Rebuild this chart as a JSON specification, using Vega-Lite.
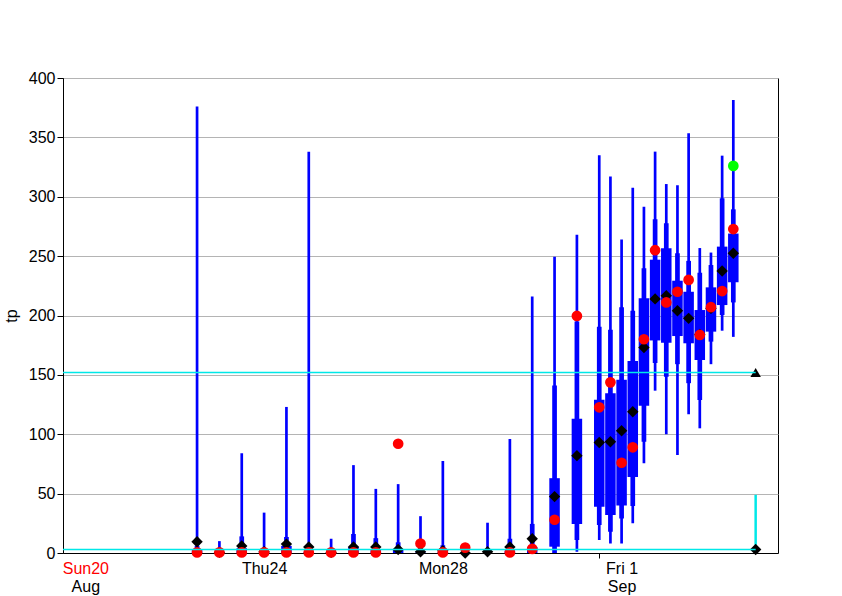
{
  "$schema": "https://vega.github.io/schema/vega-lite/v6.json",
  "width": 715,
  "height": 475,
  "autosize": "none",
  "padding": {"left": 63, "top": 78, "right": 64, "bottom": 43},
  "config": {
    "font": "Liberation Sans",
    "view": {"stroke": "black", "strokeWidth": 1},
    "axis": {"domainColor": "black", "tickColor": "black", "labelColor": "black", "titleColor": "black"}
  },
  "datasets": {
    "ens": [
      {"t": "2023-08-23T00:00:00Z", "min": 0, "p10": 0, "q25": 0, "q75": 3, "p90": 6, "max": 376, "ctrl": 9.5, "hres": 0.5},
      {"t": "2023-08-23T12:00:00Z", "min": 0, "p10": 0, "q25": 0, "q75": 0.5, "p90": 1, "max": 10, "ctrl": 0.5, "hres": 0.5},
      {"t": "2023-08-24T00:00:00Z", "min": 0, "p10": 0, "q25": 0, "q75": 4, "p90": 14, "max": 84, "ctrl": 6, "hres": 0.5},
      {"t": "2023-08-24T12:00:00Z", "min": 0, "p10": 0, "q25": 0, "q75": 0.5, "p90": 2, "max": 34, "ctrl": 1, "hres": 0.5},
      {"t": "2023-08-25T00:00:00Z", "min": 0, "p10": 0, "q25": 0, "q75": 6, "p90": 13.5, "max": 123, "ctrl": 7.5, "hres": 0.5},
      {"t": "2023-08-25T12:00:00Z", "min": 0, "p10": 0, "q25": 0, "q75": 1, "p90": 4, "max": 338, "ctrl": 5, "hres": 0.5},
      {"t": "2023-08-26T00:00:00Z", "min": 0, "p10": 0, "q25": 0, "q75": 0, "p90": 1, "max": 12, "ctrl": 0.5, "hres": 0.5},
      {"t": "2023-08-26T12:00:00Z", "min": 0, "p10": 0, "q25": 0, "q75": 5, "p90": 16, "max": 74, "ctrl": 5, "hres": 0.5},
      {"t": "2023-08-27T00:00:00Z", "min": 0, "p10": 0, "q25": 0, "q75": 3, "p90": 12.5, "max": 54, "ctrl": 5, "hres": 0.5},
      {"t": "2023-08-27T12:00:00Z", "min": 0, "p10": 0, "q25": 0, "q75": 3, "p90": 9, "max": 58, "ctrl": 3, "hres": 92},
      {"t": "2023-08-28T00:00:00Z", "min": 0, "p10": 0, "q25": 0, "q75": 0.5, "p90": 2, "max": 31, "ctrl": 1, "hres": 8},
      {"t": "2023-08-28T12:00:00Z", "min": 0, "p10": 0, "q25": 0, "q75": 1, "p90": 6.5, "max": 77.5, "ctrl": 2, "hres": 0.5},
      {"t": "2023-08-29T00:00:00Z", "min": 0, "p10": 0, "q25": 0, "q75": 0, "p90": 0.5, "max": 3, "ctrl": 0, "hres": 4.5},
      {"t": "2023-08-29T12:00:00Z", "min": 0, "p10": 0, "q25": 0, "q75": 0, "p90": 1, "max": 25.5, "ctrl": 1, "hres": null},
      {"t": "2023-08-30T00:00:00Z", "min": 0, "p10": 0, "q25": 0, "q75": 2, "p90": 12, "max": 96, "ctrl": 5, "hres": 0.5},
      {"t": "2023-08-30T12:00:00Z", "min": 0, "p10": 0, "q25": 0, "q75": 5, "p90": 24.5, "max": 216, "ctrl": 12, "hres": 3.5},
      {"t": "2023-08-31T00:00:00Z", "min": 0, "p10": 0, "q25": 5.3, "q75": 63, "p90": 141, "max": 249.5, "ctrl": 47.5, "hres": 28},
      {"t": "2023-08-31T12:00:00Z", "min": 1, "p10": 11, "q25": 24.4, "q75": 113, "p90": 195, "max": 268, "ctrl": 82, "hres": 199.6},
      {"t": "2023-09-01T00:00:00Z", "min": 11, "p10": 23.6, "q25": 39, "q75": 129, "p90": 190.6, "max": 335, "ctrl": 93, "hres": 122.7},
      {"t": "2023-09-01T06:00:00Z", "min": 8, "p10": 18, "q25": 32, "q75": 134.5, "p90": 188, "max": 317, "ctrl": 93.7, "hres": 143.7},
      {"t": "2023-09-01T12:00:00Z", "min": 8, "p10": 29, "q25": 40, "q75": 146, "p90": 207, "max": 264, "ctrl": 103, "hres": 76},
      {"t": "2023-09-01T18:00:00Z", "min": 25, "p10": 39.6, "q25": 64, "q75": 161.7, "p90": 204, "max": 307.6, "ctrl": 119, "hres": 89},
      {"t": "2023-09-02T00:00:00Z", "min": 75.5, "p10": 93.7, "q25": 124, "q75": 214.5, "p90": 239.7, "max": 291.6, "ctrl": 173, "hres": 180},
      {"t": "2023-09-02T06:00:00Z", "min": 136.7, "p10": 160, "q25": 179, "q75": 247, "p90": 281, "max": 338, "ctrl": 214, "hres": 255},
      {"t": "2023-09-02T12:00:00Z", "min": 100, "p10": 148.5, "q25": 177, "q75": 256.6, "p90": 277.6, "max": 310.7, "ctrl": 216.7, "hres": 211},
      {"t": "2023-09-02T18:00:00Z", "min": 82.5, "p10": 159, "q25": 182.7, "q75": 229.3, "p90": 252.4, "max": 309.6, "ctrl": 204, "hres": 220},
      {"t": "2023-09-03T00:00:00Z", "min": 116.8, "p10": 143, "q25": 176.6, "q75": 220, "p90": 246, "max": 353.4, "ctrl": 197.6, "hres": 230},
      {"t": "2023-09-03T06:00:00Z", "min": 105, "p10": 128.8, "q25": 162.5, "q75": 204.6, "p90": 236, "max": 256.8, "ctrl": 184, "hres": 183.6},
      {"t": "2023-09-03T12:00:00Z", "min": 159, "p10": 178, "q25": 186.4, "q75": 223.7, "p90": 242.5, "max": 253, "ctrl": 206, "hres": 207},
      {"t": "2023-09-03T18:00:00Z", "min": 187.2, "p10": 200.4, "q25": 208.8, "q75": 258, "p90": 298.7, "max": 334.6, "ctrl": 237.5, "hres": 220.6},
      {"t": "2023-09-04T00:00:00Z", "min": 182, "p10": 211, "q25": 228, "q75": 269, "p90": 289.4, "max": 381.5, "ctrl": 252.4, "hres": 272.8, "green": 326}
    ],
    "clim": [
      {"t": "2023-09-04T12:00:00Z", "lo": 3, "hi": 49, "med": 3, "top": 152}
    ],
    "climline": [
      {"t0": "2023-08-20T00:00:00Z", "t1": "2023-09-04T12:00:00Z", "v": 152},
      {"t0": "2023-08-20T00:00:00Z", "t1": "2023-09-04T12:00:00Z", "v": 3}
    ]
  },
  "resolve": {"scale": {"x": "independent"}},
  "layer": [
    {
      "layer": [
        {
          "data": {"name": "ens"},
          "mark": {"type": "rule", "color": "#0000ff", "strokeWidth": 2.7},
          "encoding": {
            "x": {
              "field": "t", "type": "temporal",
              "scale": {"type": "utc", "domain": [{"year": 2023, "month": 8, "date": 20, "utc": true}, {"year": 2023, "month": 9, "date": 5, "utc": true}]},
              "axis": {
                "title": null, "orient": "bottom", "grid": false,
                "values": [{"year": 2023, "month": 8, "date": 20, "utc": true}, {"year": 2023, "month": 8, "date": 24, "utc": true}, {"year": 2023, "month": 8, "date": 28, "utc": true}, {"year": 2023, "month": 9, "date": 1, "utc": true}],
                "labelExpr": "utcFormat(datum.value, '%a%e')",
                "labelFontSize": 16, "labelAlign": "center", "labelOffset": 22.35, "labelPadding": 2,
                "labelOverlap": false, "labelFlush": false, "labelBound": false,
                "tickSize": 5,
                "tickColor": {"condition": {"test": "utcdate(datum.value) == 1", "value": "black"}, "value": "transparent"},
                "labelColor": {"condition": {"test": "utcdate(datum.value) == 20", "value": "#ff0000"}, "value": "black"}
              }
            },
            "y": {
              "field": "min", "type": "quantitative",
              "scale": {"domain": [0, 400], "nice": false},
              "axis": {
                "title": "tp", "titleFontSize": 16, "titleFontWeight": "normal", "titlePadding": 9,
                "values": [0, 50, 100, 150, 200, 250, 300, 350, 400],
                "labelFontSize": 16, "labelPadding": 2, "tickSize": 6,
                "grid": true, "gridColor": "#b4b4b4", "gridWidth": 1
              }
            },
            "y2": {"field": "max"}
          }
        },
        {
          "data": {"name": "ens"},
          "mark": {"type": "rule", "color": "#0000ff", "strokeWidth": 4.7},
          "encoding": {
            "x": {"field": "t", "type": "temporal"},
            "y": {"field": "p10", "type": "quantitative"},
            "y2": {"field": "p90"}
          }
        },
        {
          "data": {"name": "ens"},
          "mark": {"type": "rule", "color": "#0000ff", "strokeWidth": 10.5},
          "encoding": {
            "x": {"field": "t", "type": "temporal"},
            "y": {"field": "q25", "type": "quantitative"},
            "y2": {"field": "q75"}
          }
        },
        {
          "data": {"name": "clim"},
          "mark": {"type": "rule", "color": "#00e8e8", "strokeWidth": 2.5},
          "encoding": {
            "x": {"field": "t", "type": "temporal"},
            "y": {"field": "lo", "type": "quantitative"},
            "y2": {"field": "hi"}
          }
        },
        {
          "data": {"name": "ens"},
          "mark": {"type": "point", "shape": "diamond", "filled": true, "color": "black", "size": 130, "opacity": 1},
          "encoding": {
            "x": {"field": "t", "type": "temporal"},
            "y": {"field": "ctrl", "type": "quantitative"}
          }
        },
        {
          "data": {"name": "clim"},
          "mark": {"type": "point", "shape": "diamond", "filled": true, "color": "black", "size": 130, "opacity": 1},
          "encoding": {
            "x": {"field": "t", "type": "temporal"},
            "y": {"field": "med", "type": "quantitative"}
          }
        },
        {
          "data": {"name": "clim"},
          "mark": {"type": "point", "shape": "triangle-up", "filled": true, "color": "black", "size": 110, "opacity": 1},
          "encoding": {
            "x": {"field": "t", "type": "temporal"},
            "y": {"field": "top", "type": "quantitative"}
          }
        },
        {
          "data": {"name": "ens"},
          "mark": {"type": "point", "shape": "circle", "filled": true, "color": "#ff0000", "size": 115, "opacity": 1},
          "encoding": {
            "x": {"field": "t", "type": "temporal"},
            "y": {"field": "hres", "type": "quantitative"}
          }
        },
        {
          "data": {"name": "ens"},
          "mark": {"type": "point", "shape": "circle", "filled": true, "color": "#00ff00", "size": 115, "opacity": 1},
          "encoding": {
            "x": {"field": "t", "type": "temporal"},
            "y": {"field": "green", "type": "quantitative"}
          }
        }
      ]
    },
    {
      "data": {"name": "climline"},
      "mark": {"type": "rule", "color": "#00e8e8", "strokeWidth": 1.5},
      "encoding": {
        "x": {
          "field": "t0", "type": "temporal",
          "scale": {"type": "utc", "domain": [{"year": 2023, "month": 8, "date": 20, "utc": true}, {"year": 2023, "month": 9, "date": 5, "utc": true}]},
          "axis": {
            "title": null, "orient": "bottom", "grid": false, "domain": false, "ticks": false, "tickSize": 0,
            "values": [{"year": 2023, "month": 8, "date": 20, "utc": true}, {"year": 2023, "month": 9, "date": 1, "utc": true}],
            "labelExpr": "utcFormat(datum.value, '%b')",
            "labelFontSize": 16, "labelAlign": "center", "labelOffset": 22.35, "labelPadding": 25,
            "labelOverlap": false, "labelFlush": false, "labelBound": false
          }
        },
        "x2": {"field": "t1"},
        "y": {"field": "v", "type": "quantitative"}
      }
    }
  ]
}
